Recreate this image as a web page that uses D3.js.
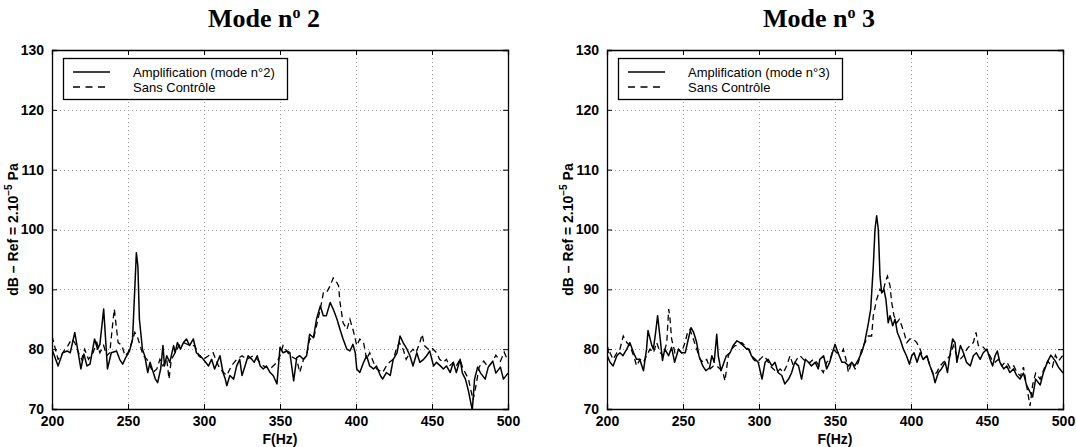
<!DOCTYPE html>
<html><head><meta charset="utf-8">
<script src="https://cdn.jsdelivr.net/npm/d3@7"></script>
<style>
body{margin:0;background:#fff;}
svg{display:block;}
.tick text{font-family:"Liberation Sans",Arial,sans-serif;font-weight:bold;font-size:14px;fill:#000;}
</style></head>
<body>
<svg id="chart" width="1076" height="447"></svg>
<script>
const freqTicks = [200,250,300,350,400,450,500];
const dbTicks = [70,80,90,100,110,120,130];
const titles = ["2","3"];
const legendAmp = ["Amplification (mode n°2)","Amplification (mode n°3)"];
const legendSans = "Sans Contrôle";

// Mode 2 - Amplification
const mode2AmpF = [200,204,207,210,212,215,219,221,223,225,228,230,231.5,234,236.5,239,242.5,244.5,246.5,248.5,251,253,255.5,256.5,257.5,259.5,261,263,264.5,268,269.5,271.5,273,274,275.5,277.5,280,281,282.5,284.5,286.5,288.5,290.5,293,295,297.5,299.5,303,305,307,310.5,312.5,314,315,317,319.5,321.5,323.5,325,327,329,331.5,333,335,337,339,341,343.5,345.5,348,350,352,354.5,356.5,359,361,363,365.5,367.5,369.5,372,374,376.5,378.5,380.5,383,385,387.5,389.5,391.5,394,396,398,399.5,400.5,402.5,405,407,409,411.5,413.5,416,417.5,420,422.5,424.5,427,429,431,433.5,435.5,437.5,440,442,444.5,446.5,448.5,451,453,455.5,457.5,459.5,462,464,466,468.5,470,472,474,476.5,478,480,482,485,487,490,492,495,497,500];
const mode2AmpDB = [80.0,77.2,79.4,79.7,79.4,82.8,76.7,79.2,77.2,77.5,81.7,80.0,80.8,86.7,76.7,79.4,79.7,78.3,77.5,78.6,79.7,81.7,96.1,93.9,85.0,80.0,78.9,76.1,77.8,75.0,74.4,76.7,80.6,77.2,78.9,77.8,80.6,79.4,81.1,80.0,81.1,81.7,80.6,81.7,79.4,78.9,78.3,77.2,78.3,76.7,78.9,76.1,75.0,73.9,75.6,75.0,77.2,78.3,75.6,77.2,78.9,78.3,77.8,78.9,77.2,76.7,77.2,76.1,75.6,74.2,80.3,79.4,79.7,79.4,74.7,78.6,78.9,78.3,78.9,82.5,81.9,85.0,87.2,85.6,85.6,87.8,86.7,85.0,83.3,81.7,80.0,79.7,80.8,79.4,76.7,76.1,77.8,78.9,77.2,76.7,77.2,75.6,75.0,76.1,75.6,78.3,79.4,82.2,81.1,80.0,78.9,77.2,79.4,77.8,78.3,78.9,79.7,77.2,77.8,77.2,76.7,77.2,76.1,77.8,76.1,78.3,76.0,75.0,73.0,69.8,75.0,77.0,76.0,75.0,77.0,78.0,76.0,77.0,75.0,76.0];

// Mode 2 - Sans Contrôle
const mode2SansF = [200,204,206,208.5,210.5,213,215,217.5,219.5,221.5,224,227,229.5,231.5,234,236,238,240,241,242.5,243.5,246,248,250,252.5,254.5,256,258,260,262.5,264.5,266.5,269,271,273,275.5,277,278.5,281,283.5,286.5,291,294,296.5,299.5,303,306,308.5,310.5,315,318,321.5,325,328,332.5,335,339,343.5,348,350,352,356.5,361,363,365.5,367.5,369.5,372,374,376.5,378.5,380.5,383,385,387.5,388.5,389.5,391.5,394,396,398.5,400.5,402.5,405,407,409,411.5,413.5,417.5,420,422,424.5,426.5,428.5,431,433,435.5,437.5,439.5,442,443.5,445,447.5,449.5,453,455,457.5,459.5,461.5,464,466,468.5,470,472,474,477,479,481,484,487,490,492,495,497.5,500];
const mode2SansDB = [82.2,78.3,78.9,80.0,80.6,81.7,81.1,79.4,78.3,80.0,78.3,79.4,81.1,79.4,80.6,78.9,79.4,84.4,86.7,83.3,81.1,80.6,78.9,79.4,81.1,82.8,82.2,80.6,78.9,78.3,77.2,76.1,76.7,78.3,77.2,78.3,75.0,78.3,79.4,80.6,81.1,80.6,80.6,78.9,78.3,78.9,79.4,77.8,76.7,75.6,77.2,78.3,78.9,78.3,78.9,78.3,77.2,76.7,77.8,78.9,80.6,78.9,78.3,76.1,78.3,78.9,81.7,81.7,83.9,86.7,89.4,89.4,90.6,91.9,91.1,90.6,87.8,84.4,83.3,85.0,82.8,80.6,81.7,81.1,78.3,79.4,77.8,76.7,76.1,77.2,77.8,78.3,80.0,81.1,80.0,78.3,79.4,80.0,79.4,81.1,82.5,80.6,80.0,80.3,79.4,78.3,77.8,78.3,77.2,77.8,77.2,78.3,77.0,76.0,75.0,71.5,74.0,77.0,78.0,77.0,78.0,79.0,78.0,79.5,78.0];

// Mode 3 - Amplification
const mode3AmpF = [200,202,204,206.5,208.5,210.5,213,215,217.5,219.5,221.5,224,226,227,229.5,230.5,232,233.3,235,236.5,238,240.5,242.5,244.5,247,249,251.5,253.5,255.3,257,259,260.5,263,265,267.5,269,270.5,272.2,273.2,275,277,278.5,281,283,285.5,287.5,289.5,292,293.5,295,297.5,299.5,302,304,306,308.5,310.5,312.5,315,317,319.5,321.5,323.5,326,328,330.5,332.5,334.5,337,339,340,342.5,344.5,346.5,349,350,352,354.5,356.5,359,361,363,365.5,367.5,369.5,372,373.5,375.2,376.3,377.4,378.5,379.6,380.7,382.2,383.5,385,386.2,388,389.5,391,392.8,395,397,399,400.5,402,404,406,408,410.5,412.5,414.3,415.8,418,420,422.5,424,425.8,427.4,429,430.2,432.5,434.5,436.5,439,441,443,445.5,447.5,450,452,453.7,455.3,456.8,458.5,461,463,465,467.5,469.5,471.7,474,476,478,480,482,485,487,490,492,495,497,500];
const mode3AmpDB = [79.0,77.8,77.2,78.9,79.4,78.9,80.0,81.1,79.4,78.3,78.3,76.4,80.0,83.1,80.6,80.0,82.8,85.6,81.7,78.1,80.0,78.9,80.3,77.8,80.0,79.4,79.4,81.7,83.6,82.8,81.1,78.9,77.2,76.4,76.9,78.9,77.8,82.5,78.9,76.4,77.8,78.9,79.4,80.6,81.4,81.1,80.6,80.0,80.0,78.9,78.3,77.8,75.0,77.8,78.3,77.2,77.8,76.1,75.6,74.2,75.0,76.1,77.8,77.2,75.0,78.3,77.8,77.2,77.8,76.7,78.3,78.9,76.7,77.8,80.0,80.8,79.4,77.8,77.8,77.2,77.8,77.2,78.3,79.4,81.1,84.4,86.7,93.9,100.0,102.3,100.0,92.2,89.4,90.0,88.3,84.4,85.6,83.9,85.0,82.8,81.7,80.0,78.9,77.5,78.9,79.4,77.8,79.4,78.3,78.9,77.2,76.1,74.4,76.1,76.7,77.8,76.1,79.4,81.7,81.1,77.8,80.6,79.4,77.8,77.2,78.9,79.4,78.3,79.4,80.0,78.3,77.2,78.9,79.7,77.8,76.7,77.2,76.1,76.7,75.6,75.0,76.0,74.0,73.0,72.0,75.0,74.0,76.0,78.0,79.0,78.0,77.0,76.0];

// Mode 3 - Sans Contrôle
const mode3SansF = [200,201,202,204,206.5,208.5,210.7,213,215,217.5,219.5,221.7,224,226,228.3,230.5,232.7,235,237,239.3,240.6,241.5,242.5,244.7,247,249,251.3,253,254.6,256.8,259,261.2,263.4,265.6,267.8,270,272.2,274.4,276.6,277.6,279.8,282,284.2,286.4,288.6,290.8,293,296.3,298.5,300.7,302.9,305.1,307.3,309.5,311.7,313.9,316.1,318.2,320.4,322.6,324.8,327,329.2,331.4,333.6,335.7,338,342.3,344.5,346.7,348.9,351.1,354.4,355.5,357.7,358.8,361,363.2,365.4,367.5,369.7,371.9,374.1,375.2,377.4,379.6,381.4,383,384.5,386.2,387.3,388.8,390.6,392.3,393.9,395.4,397.2,399.3,401.5,403.8,406,408.2,410.3,412.5,414.7,416.9,419.1,421.3,423.5,425.7,427.9,430.1,432.3,434.5,436.7,438.8,441,442.8,444.3,446.5,448.7,450.9,453.1,455.3,457.5,459.7,461.9,463.2,465.4,467.6,469.8,472,474,476,478.3,480,482,485,488,490,493,495,497,500];
const mode3SansDB = [82.0,79.0,79.4,78.3,79.4,80.0,82.2,81.1,80.6,78.9,77.2,78.3,77.8,78.9,80.0,79.4,81.1,79.4,78.9,81.1,86.7,85.0,81.7,79.4,80.0,79.4,81.1,82.8,83.3,81.7,80.0,78.3,77.8,78.3,76.7,77.2,77.2,76.7,75.8,74.7,78.9,80.0,80.6,80.6,81.1,80.6,80.0,78.3,77.8,78.3,78.9,78.3,77.2,76.7,76.1,76.7,76.1,77.2,78.9,77.2,78.3,78.9,78.3,77.8,77.8,78.3,77.8,76.1,77.8,78.3,80.0,79.4,79.4,80.0,77.8,76.1,77.8,76.7,77.8,80.0,81.1,82.2,82.2,85.6,88.3,90.0,89.4,91.1,92.2,90.6,87.8,85.6,84.4,85.0,83.9,82.8,81.1,81.7,81.7,81.1,80.0,78.3,78.9,77.2,75.6,76.1,77.2,77.8,78.3,78.9,80.6,78.9,78.3,78.9,80.0,80.6,81.1,82.8,80.6,80.6,80.0,79.4,78.3,77.8,78.3,77.2,77.8,77.8,76.7,77.2,76.1,75.5,77.0,74.0,70.5,74.0,76.0,75.0,77.0,78.0,77.0,79.0,78.0,79.0];

const svg = d3.select("#chart");
const W = 456, H = 359, TOP = 50;
const panels = [
  {left:52, mode:0, ampF:mode2AmpF, ampDB:mode2AmpDB, sansF:mode2SansF, sansDB:mode2SansDB},
  {left:607, mode:1, ampF:mode3AmpF, ampDB:mode3AmpDB, sansF:mode3SansF, sansDB:mode3SansDB}
];

panels.forEach((p, i) => {
  const x = d3.scaleLinear().domain([200,500]).range([p.left, p.left + W]);
  const y = d3.scaleLinear().domain([70,130]).range([TOP + H, TOP]);
  const g = svg.append("g");

  // grid
  const gridX = freqTicks.slice(1, -1), gridY = dbTicks.slice(1, -1);
  g.append("g").selectAll("line").data(gridX).join("line")
    .attr("x1", d => x(d) + 0.5).attr("x2", d => x(d) + 0.5)
    .attr("y1", TOP).attr("y2", TOP + H)
    .attr("stroke", "#999").attr("stroke-width", 1).attr("stroke-dasharray", "1,3");
  g.append("g").selectAll("line").data(gridY).join("line")
    .attr("y1", d => Math.round(y(d)) + 0.5).attr("y2", d => Math.round(y(d)) + 0.5)
    .attr("x1", p.left).attr("x2", p.left + W)
    .attr("stroke", "#999").attr("stroke-width", 1).attr("stroke-dasharray", "1,3");

  // clip
  const clipId = "clip" + i;
  svg.append("clipPath").attr("id", clipId).append("rect")
    .attr("x", p.left).attr("y", TOP).attr("width", W).attr("height", H);

  const line = d3.line().x(d => x(d[0])).y(d => y(d[1]));
  const sans = p.sansF.map((f, k) => [f, p.sansDB[k]]);
  const amp = p.ampF.map((f, k) => [f, p.ampDB[k]]);
  g.append("path").datum(sans).attr("clip-path", `url(#${clipId})`)
    .attr("d", line).attr("fill", "none").attr("stroke", "#000")
    .attr("stroke-width", 1.3).attr("stroke-dasharray", "6,4");
  g.append("path").datum(amp).attr("clip-path", `url(#${clipId})`)
    .attr("d", line).attr("fill", "none").attr("stroke", "#000")
    .attr("stroke-width", 1.5).attr("stroke-linejoin", "round");

  // axes
  const axB = d3.axisBottom(x).tickValues(freqTicks).tickSize(-5).tickPadding(7);
  const axT = d3.axisTop(x).tickValues(freqTicks).tickSize(-5).tickFormat("");
  const axL = d3.axisLeft(y).tickValues(dbTicks).tickSize(-5).tickPadding(8);
  const axR = d3.axisRight(y).tickValues(dbTicks).tickSize(-5).tickFormat("");
  [[axB, `translate(0,${TOP + H})`], [axT, `translate(0,${TOP})`],
   [axL, `translate(${p.left},0)`], [axR, `translate(${p.left + W},0)`]].forEach(([ax, tr]) => {
    const a = g.append("g").attr("transform", tr).call(ax);
    a.select(".domain").attr("stroke", "#000").attr("stroke-width", 1.3);
    a.selectAll(".tick line").attr("stroke", "#000");
  });

  // x label
  g.append("text").attr("x", x(350)).attr("y", 444)
    .attr("text-anchor", "middle")
    .style("font-family", "'Liberation Sans',Arial,sans-serif").style("font-weight", "bold").style("font-size", "14px")
    .text("F(Hz)");

  // y label
  const yl = g.append("text")
    .attr("transform", `translate(${p.left - 34},${TOP + H / 2}) rotate(-90)`)
    .attr("text-anchor", "middle")
    .style("font-family", "'Liberation Sans',Arial,sans-serif").style("font-weight", "bold").style("font-size", "14px");
  yl.append("tspan").text("dB – Ref = 2.10");
  yl.append("tspan").attr("dy", -6).style("font-size", "10px").text("−5");
  yl.append("tspan").attr("dy", 6).text(" Pa");

  // title
  const t = g.append("text").attr("x", p.left + 212).attr("y", 27)
    .attr("text-anchor", "middle")
    .style("font-family", "'Liberation Serif','Times New Roman',serif").style("font-weight", "bold").style("font-size", "26px");
  t.append("tspan").text("Mode n");
  t.append("tspan").attr("dy", -9).style("font-size", "16px").text("o");
  t.append("tspan").attr("dy", 9).text(" " + titles[p.mode]);

  // legend
  const lg = g.append("g").attr("transform", `translate(${p.left + 11},${TOP + 8})`);
  lg.append("rect").attr("x", 0.5).attr("y", 0.5).attr("width", 224).attr("height", 41)
    .attr("fill", "#fff").attr("stroke", "#000").attr("stroke-width", 1.3);
  lg.append("line").attr("x1", 10).attr("x2", 47).attr("y1", 14).attr("y2", 14)
    .attr("stroke", "#000").attr("stroke-width", 1.5);
  lg.append("line").attr("x1", 10).attr("x2", 47).attr("y1", 29).attr("y2", 29)
    .attr("stroke", "#000").attr("stroke-width", 1.3).attr("stroke-dasharray", "7,5.5");
  const lf = s => s.style("font-family", "'Liberation Sans',Arial,sans-serif").style("font-size", "13px");
  lg.append("text").attr("x", 70).attr("y", 19).call(lf).text(legendAmp[p.mode]);
  lg.append("text").attr("x", 70).attr("y", 34).call(lf).text(legendSans);
});
</script>
</body></html>
